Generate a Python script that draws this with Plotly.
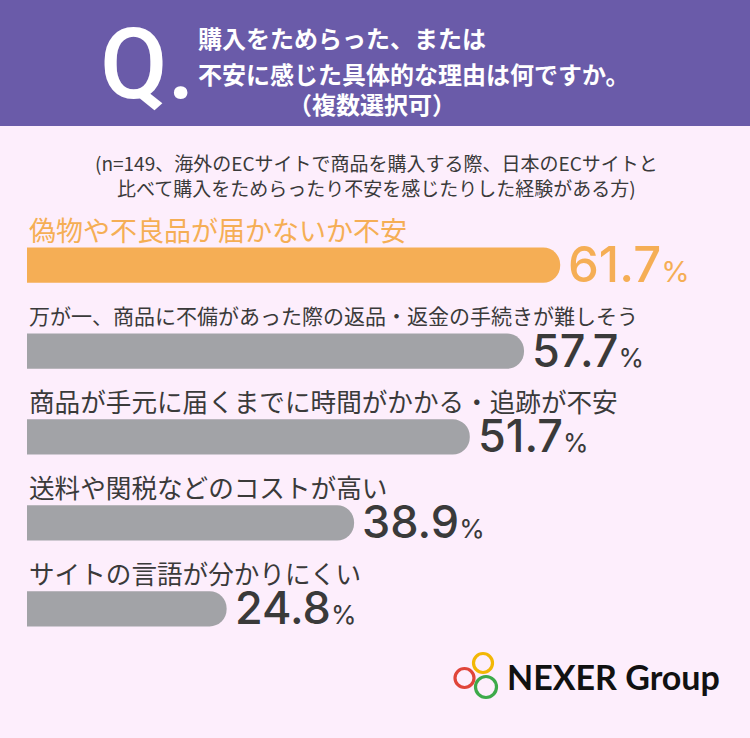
import plotly.graph_objects as go

# ---- data ----
categories = [
    "偽物や不良品が届かないか不安",
    "万が一、商品に不備があった際の返品・返金の手続きが難しそう",
    "商品が手元に届くまでに時間がかかる・追跡が不安",
    "送料や関税などのコストが高い",
    "サイトの言語が分かりにくい",
]
values = [61.7, 57.7, 51.7, 38.9, 24.8]

title_lines = ["購入をためらった、または", "不安に感じた具体的な理由は何ですか。", "（複数選択可）"]
subtitle = "(n=149、海外のECサイトで商品を購入する際、日本のECサイトと<br>比べて購入をためらったり不安を感じたりした経験がある方)"
brand = "NEXER Group"

# ---- styles ----
W, H = 750, 738
ORANGE = "#F5AE55"
GRAY = "#A2A3A7"
DARK = "#3A3A3A"
PURPLE = "#6A5BA9"
BG = "#FDEEFC"
JP = "Noto Sans CJK JP"
NUM = "Inter, Lato, sans-serif"

bar_colors = [ORANGE] + [GRAY] * 4
text_colors = [ORANGE] + [DARK] * 4
label_sizes = [27, 21, 25.6, 25.6, 25.6]
num_sizes = [49, 45, 45, 45, 45]
pct_sizes = [29, 26, 26, 26, 26]


def px(x):
    return x / W


def py(y):
    return 1 - y / H


fig = go.Figure()
fig.add_trace(go.Bar(
    x=values, y=categories, orientation="h",
    marker=dict(color=bar_colors, cornerradius=18, line=dict(width=0)),
    width=0.41, hoverinfo="skip",
))

annotations = []
for cat, v, tc, ls, ns, ps in zip(categories, values, text_colors, label_sizes, num_sizes, pct_sizes):
    annotations.append(dict(
        x=px(27), xref="paper", xanchor="left",
        y=cat, yref="y", yanchor="middle", yshift=36,
        text=cat, showarrow=False,
        font=dict(family=JP, size=ls, color=tc),
    ))
    annotations.append(dict(
        x=v, xref="x", xanchor="left", xshift=6,
        y=cat, yref="y", yanchor="middle", yshift=1,
        text=f"{v}<span style='font-size:{ps}px;font-weight:400'>%</span>",
        showarrow=False,
        font=dict(family=NUM, size=ns, color=tc, weight=500),
    ))

# header
annotations.append(dict(
    x=px(147), y=py(64), xref="paper", yref="paper", xanchor="center", yanchor="middle",
    text="Q.", showarrow=False,
    font=dict(family="Roboto, sans-serif", size=98, color="white", weight=500),
))
for txt, x, y, anc in [(title_lines[0], 196, 38, "left"), (title_lines[1], 196, 73, "left"),
                       (title_lines[2], 372, 104, "center")]:
    annotations.append(dict(
        x=px(x), y=py(y), xref="paper", yref="paper", xanchor=anc, yanchor="middle",
        text=txt, showarrow=False,
        font=dict(family=JP, size=24, color="white", weight=700),
    ))
annotations.append(dict(
    x=px(376), y=py(175), xref="paper", yref="paper", xanchor="center", yanchor="middle",
    text=subtitle, showarrow=False, align="center",
    font=dict(family=JP, size=19, color=DARK),
))
annotations.append(dict(
    x=px(505), y=py(676), xref="paper", yref="paper", xanchor="left", yanchor="middle",
    text=brand, showarrow=False,
    font=dict(family="Lato, sans-serif", size=34, color="#111111", weight=700),
))

shapes = [
    dict(type="rect", xref="paper", yref="paper", x0=0, x1=1, y0=py(126), y1=1,
         fillcolor=PURPLE, line=dict(width=0), layer="below"),
]
for (cx, cy, r, col) in [(483, 663, 9.5, "#F2B705"), (464.5, 678, 9.5, "#E0453A"), (486, 687, 10.5, "#3DAA4A")]:
    shapes.append(dict(type="circle", xref="paper", yref="paper",
                       x0=px(cx - r), x1=px(cx + r), y0=py(cy + r), y1=py(cy - r),
                       line=dict(color=col, width=3.2), fillcolor="rgba(0,0,0,0)"))

fig.update_layout(
    width=W, height=H,
    margin=dict(l=0, r=0, t=0, b=0),
    paper_bgcolor=BG, plot_bgcolor=BG,
    showlegend=False,
    xaxis=dict(domain=[px(27), 1], range=[2.72, 2.72 + 723 / 9.04],
               visible=False, fixedrange=True),
    yaxis=dict(domain=[py(665.3), py(222.2)], categoryorder="array",
               categoryarray=categories, autorange="reversed",
               visible=False, fixedrange=True),
    annotations=annotations,
    shapes=shapes,
)

fig.write_html(
    "out.html",
    config={"displayModeBar": False},
    post_script="document.body.style.margin='0';document.body.style.overflow='hidden';",
)
